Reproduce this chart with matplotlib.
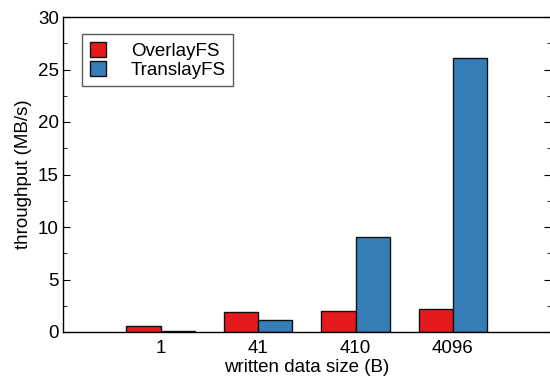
import matplotlib
matplotlib.use("Agg")
import matplotlib.pyplot as plt
import numpy as np
from matplotlib.ticker import MultipleLocator

categories = ["1", "41", "410", "4096"]
overlay = [0.54, 1.87, 1.97, 2.16]
translay = [0.05, 1.11, 9.07, 26.07]
series_names = ["OverlayFS", "TranslayFS"]
colors = ["#e41a1c", "#377eb8"]

plt.rcParams['font.family'] = ['Liberation Sans', 'DejaVu Sans']

fig = plt.figure(figsize=(5.5, 3.77), dpi=100)
ax = fig.add_axes([63/550, 45/377, (550.5-63)/550, (332-17)/377])

x = np.arange(1, len(categories) + 1)
w = 0.349
ax.bar(x - w/2, overlay, w, color=colors[0], edgecolor="#111111", linewidth=1, label=series_names[0])
ax.bar(x + w/2, translay, w, color=colors[1], edgecolor="#111111", linewidth=1, label=series_names[1])

ax.set_xlim(0, 5)
ax.set_ylim(0, 30)
ax.set_xticks(x)
ax.set_xticklabels(categories)
ax.yaxis.set_major_locator(MultipleLocator(5))
ax.yaxis.set_minor_locator(MultipleLocator(2.5))
ax.tick_params(axis='x', length=0, labelsize=13.5, pad=6)
ax.tick_params(axis='y', which='both', direction='in', right=True, labelsize=13.5, pad=3)
ax.tick_params(axis='y', which='major', length=5)
ax.tick_params(axis='y', which='minor', length=3)
for s in ax.spines.values():
    s.set_linewidth(1)
ax.set_xlabel("written data size (B)", fontsize=13.5, labelpad=1)
ax.set_ylabel("throughput (MB/s)", fontsize=13.5, labelpad=4)

leg = ax.legend(loc='upper left', bbox_to_anchor=(0.039, 0.946), fontsize=13.5, frameon=True,
                fancybox=False, edgecolor='#333333', handlelength=0.9, handleheight=0.9,
                handletextpad=1.3, borderpad=0.4, labelspacing=0.05, borderaxespad=0)
leg.get_frame().set_linewidth(1)

fig.savefig("out.png", dpi=100)
